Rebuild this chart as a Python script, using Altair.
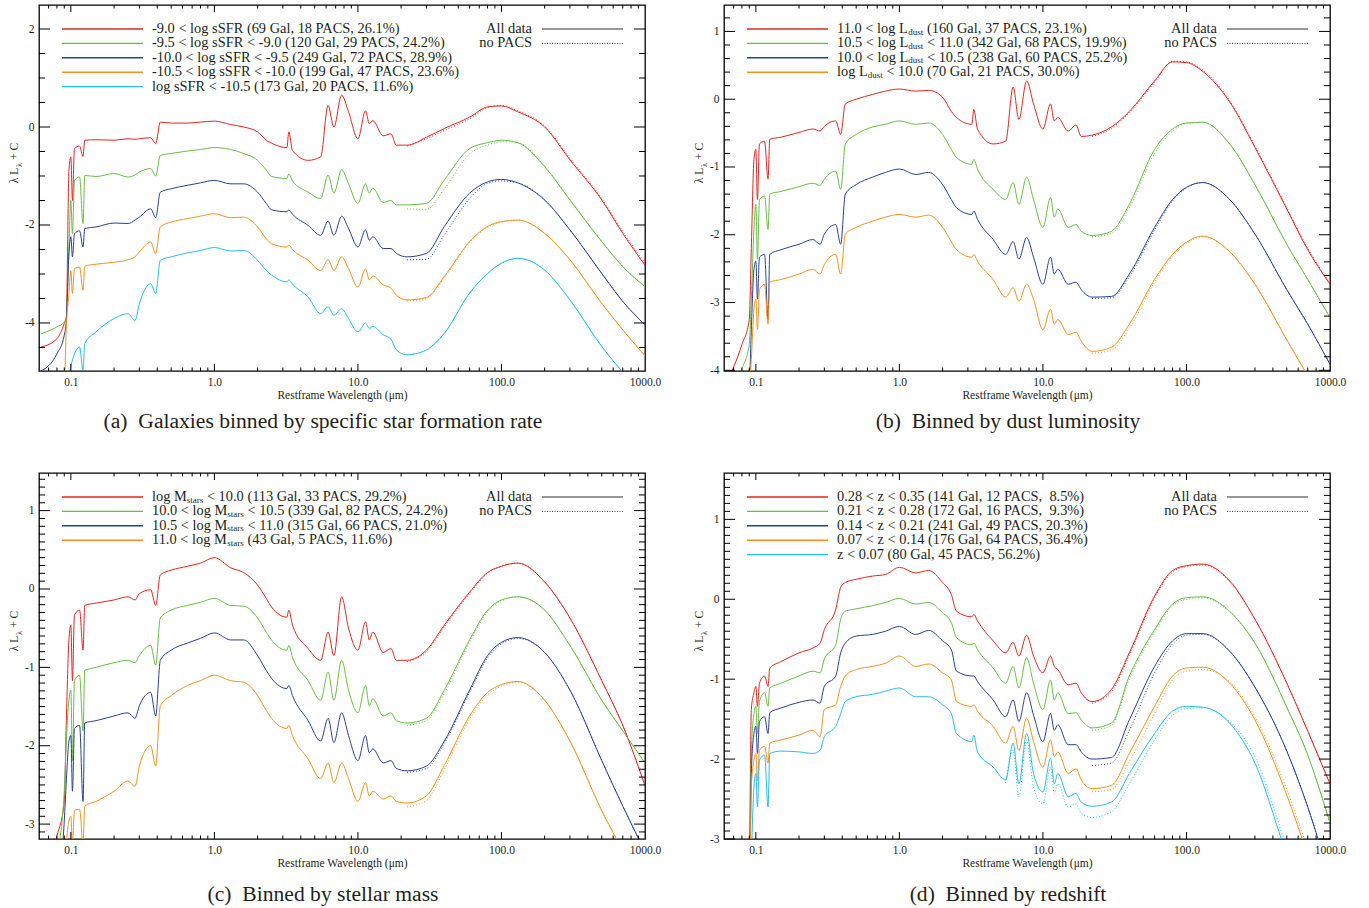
import altair as alt
import pandas as pd

FONT = "Liberation Serif"
INK = "#231f20"
W, H = 606, 366

# ---------------- wavelength grids (micron) ----------------
WL = [0.062, 0.08, 0.09, 0.093, 0.097, 0.1, 0.1026, 0.106, 0.115, 0.1216, 0.125, 0.15, 0.2, 0.25,
      0.28, 0.3, 0.36, 0.39, 0.42, 0.5, 0.65, 0.8, 1.0, 1.3, 1.6, 2.0, 2.3, 2.5, 3.2, 3.3, 3.5, 4.5,
      5.5, 6.2, 6.8, 7.7, 8.6, 10.0, 11.3, 12.0, 12.7, 15.0, 17.0, 18.5, 22.0, 30.0, 40.0, 60.0,
      80.0, 100.0, 130.0, 200.0, 300.0, 500.0, 700.0, 1000.0]
WL_FIR = [22.0, 30.0, 40.0, 60.0, 80.0, 100.0, 130.0, 200.0, 300.0, 500.0, 700.0, 1000.0]
WL_MIRFIR = [5.5, 6.2, 6.8, 7.7, 8.6, 10.0, 11.3, 12.0, 12.7, 15.0, 17.0, 18.5, 22.0, 30.0, 40.0,
             60.0, 80.0, 100.0, 130.0, 200.0, 300.0, 500.0, 700.0, 1000.0]

# ---------------- panel (a): sSFR bins ----------------
A_RED = [-4.49, -4.32, -4.01, -3.88, -0.88, -0.61, -1.50, -0.44, -0.39, -0.60, -0.27, -0.26, -0.27, -0.24,
         -0.25, -0.24, -0.22, -0.34, 0.10, 0.08, 0.08, 0.10, 0.12, 0.05, 0.00, -0.10, -0.27, -0.33, -0.42,
         -0.10, -0.48, -0.68, -0.61, 0.44, 0.00, 0.65, 0.31, -0.24, 0.33, 0.07, 0.13, -0.18, -0.14, -0.37,
         -0.37, -0.21, -0.03, 0.20, 0.41, 0.43, 0.31, 0.00, -0.67, -1.49, -2.17, -2.82]
A_GREEN = [-4.22, -4.08, -3.98, -3.88, -2.45, -1.50, -2.18, -1.09, -1.02, -1.97, -0.99, -1.01, -0.95, -1.02,
           -0.98, -0.92, -0.85, -1.00, -0.58, -0.54, -0.49, -0.46, -0.42, -0.46, -0.54, -0.68, -0.88, -1.01,
           -1.05, -0.96, -1.10, -1.33, -1.46, -0.98, -1.35, -0.87, -1.16, -1.56, -1.16, -1.35, -1.25, -1.54,
           -1.50, -1.59, -1.59, -1.56, -1.08, -0.44, -0.32, -0.27, -0.32, -0.81, -1.49, -2.34, -2.85, -3.26]
A_BLUE = [-4.98, -4.63, -4.25, -3.95, -2.59, -2.24, -2.65, -2.18, -2.12, -2.45, -2.07, -2.04, -1.96, -1.97,
          -1.90, -1.84, -1.67, -1.85, -1.33, -1.26, -1.19, -1.14, -1.09, -1.16, -1.16, -1.33, -1.56, -1.69,
          -1.73, -1.69, -1.78, -2.01, -2.21, -1.92, -2.21, -1.82, -2.07, -2.45, -2.10, -2.31, -2.24, -2.48,
          -2.48, -2.58, -2.65, -2.58, -2.03, -1.35, -1.12, -1.07, -1.14, -1.49, -2.10, -2.99, -3.56, -4.04]
A_ORANGE = [-6.0, -6.0, -5.3, -4.08, -3.40, -2.93, -3.40, -2.89, -2.86, -3.33, -2.84, -2.80, -2.76, -2.71,
            -2.65, -2.55, -2.35, -2.58, -2.04, -1.94, -1.87, -1.82, -1.77, -1.85, -1.84, -2.04, -2.28, -2.38,
            -2.45, -2.41, -2.50, -2.72, -2.93, -2.71, -2.93, -2.65, -2.89, -3.27, -2.90, -3.12, -3.04, -3.22,
            -3.29, -3.43, -3.53, -3.48, -3.05, -2.34, -2.03, -1.93, -1.90, -2.17, -2.71, -3.60, -4.14, -4.67]
A_CYAN = [-7.0, -7.0, -7.0, -6.5, -5.3, -4.90, -4.76, -4.63, -4.49, -4.97, -4.42, -4.18, -3.91, -3.81,
          -3.95, -3.61, -3.20, -3.40, -2.72, -2.65, -2.57, -2.52, -2.46, -2.53, -2.52, -2.72, -2.93, -3.02,
          -3.16, -3.12, -3.21, -3.47, -3.81, -3.67, -3.84, -3.71, -3.91, -4.18, -4.00, -4.11, -4.07, -4.24,
          -4.33, -4.55, -4.65, -4.55, -4.21, -3.39, -2.99, -2.78, -2.68, -2.92, -3.53, -4.48, -5.00, -5.45]
A_RED_NP = [-0.39, -0.24, -0.07, 0.17, 0.40, 0.44, 0.33, 0.02, -0.64, -1.46, -2.13, -2.78]
A_GREEN_NP = [-1.67, -1.68, -1.26, -0.55, -0.37, -0.30, -0.32, -0.80, -1.48, -2.33, -2.84, -3.25]
A_BLUE_NP = [-2.71, -2.70, -2.20, -1.46, -1.15, -1.10, -1.14, -1.49, -2.10, -2.99, -3.56, -4.04]
A_ORANGE_NP = [-3.55, -3.50, -3.08, -2.36, -2.05, -1.94, -1.90, -2.17, -2.71, -3.60, -4.14, -4.67]
A_CYAN_NP = [-4.65, -4.55, -4.21, -3.39, -2.99, -2.78, -2.68, -2.92, -3.53, -4.48, -5.00, -5.45]

# ---------------- panel (b): dust luminosity bins ----------------
B_RED = [-4.2, -3.62, -3.25, -2.2, -0.89, -0.74, -1.48, -0.66, -0.62, -1.18, -0.59, -0.56, -0.49, -0.44,
         -0.47, -0.40, -0.32, -0.52, -0.07, 0.00, 0.07, 0.12, 0.15, 0.12, 0.13, 0.03, -0.18, -0.27, -0.37,
         -0.15, -0.44, -0.66, -0.62, 0.18, -0.30, 0.27, -0.07, -0.44, -0.07, -0.32, -0.27, -0.47, -0.38,
         -0.55, -0.53, -0.41, -0.18, 0.27, 0.55, 0.54, 0.41, -0.04, -0.71, -1.62, -2.22, -2.73]
B_GREEN = [-4.6, -3.98, -3.62, -2.95, -1.92, -1.55, -2.36, -1.48, -1.43, -1.92, -1.40, -1.36, -1.29, -1.24,
           -1.27, -1.18, -1.06, -1.33, -0.66, -0.52, -0.41, -0.37, -0.32, -0.37, -0.35, -0.52, -0.74, -0.86,
           -0.96, -0.89, -1.03, -1.33, -1.48, -1.23, -1.55, -1.15, -1.48, -1.89, -1.45, -1.74, -1.62, -1.89,
           -1.85, -1.95, -2.01, -1.95, -1.55, -0.74, -0.44, -0.35, -0.34, -0.66, -1.26, -2.14, -2.66, -3.22]
B_BLUE = [-5.0, -4.6, -4.2, -3.40, -2.51, -2.39, -2.95, -2.33, -2.29, -3.25, -2.29, -2.22, -2.14, -2.07,
          -2.14, -1.99, -1.85, -2.14, -1.40, -1.26, -1.15, -1.08, -1.03, -1.11, -1.08, -1.26, -1.48, -1.60,
          -1.70, -1.65, -1.77, -2.07, -2.29, -2.10, -2.36, -2.04, -2.33, -2.73, -2.33, -2.58, -2.51, -2.73,
          -2.70, -2.81, -2.92, -2.91, -2.58, -1.89, -1.48, -1.30, -1.23, -1.48, -1.99, -2.81, -3.32, -3.91]
B_ORANGE = [-6.0, -6.0, -4.3, -3.84, -3.10, -2.95, -3.40, -2.81, -2.73, -3.32, -2.70, -2.66, -2.58, -2.51,
            -2.58, -2.44, -2.29, -2.58, -1.99, -1.89, -1.80, -1.74, -1.70, -1.74, -1.71, -1.89, -2.10, -2.22,
            -2.33, -2.29, -2.39, -2.66, -2.92, -2.78, -2.98, -2.73, -2.95, -3.40, -3.10, -3.32, -3.25, -3.47,
            -3.44, -3.57, -3.72, -3.66, -3.32, -2.66, -2.29, -2.11, -2.02, -2.25, -2.73, -3.55, -4.08, -4.60]
B_RED_NP = [-0.55, -0.43, -0.20, 0.25, 0.56, 0.55, 0.43, -0.02, -0.69, -1.60, -2.20, -2.71]
B_GREEN_NP = [-2.03, -1.98, -1.60, -0.80, -0.47, -0.36, -0.34, -0.66, -1.26, -2.14, -2.66, -3.22]
B_BLUE_NP = [-2.94, -2.93, -2.62, -1.93, -1.50, -1.31, -1.23, -1.48, -1.99, -2.81, -3.32, -3.91]
B_ORANGE_NP = [-3.75, -3.70, -3.38, -2.70, -2.32, -2.13, -2.03, -2.25, -2.73, -3.55, -4.08, -4.60]

# ---------------- panel (c): stellar mass bins ----------------
C_RED = [-3.6, -3.15, -2.71, -1.68, -0.65, -0.46, -1.17, -0.33, -0.27, -0.78, -0.21, -0.18, -0.14, -0.10,
         -0.14, -0.06, -0.01, -0.21, 0.18, 0.24, 0.29, 0.33, 0.40, 0.27, 0.21, 0.05, -0.12, -0.23, -0.36,
         -0.27, -0.46, -0.76, -0.91, -0.55, -0.85, -0.10, -0.50, -0.78, -0.42, -0.65, -0.55, -0.81, -0.76,
         -0.91, -0.91, -0.78, -0.46, -0.04, 0.21, 0.29, 0.33, 0.09, -0.37, -1.17, -1.74, -2.51]
C_GREEN = [-4.0, -3.4, -2.58, -1.94, -1.42, -1.29, -2.19, -1.17, -1.10, -1.81, -1.04, -1.00, -0.94, -0.91,
           -0.94, -0.85, -0.72, -0.97, -0.37, -0.27, -0.21, -0.17, -0.12, -0.21, -0.22, -0.37, -0.55, -0.65,
           -0.78, -0.72, -0.87, -1.17, -1.42, -1.06, -1.42, -0.91, -1.29, -1.58, -1.23, -1.49, -1.40, -1.62,
           -1.58, -1.68, -1.71, -1.65, -1.29, -0.65, -0.27, -0.14, -0.10, -0.27, -0.72, -1.42, -1.81, -2.22]
C_BLUE = [-4.5, -3.9, -2.96, -2.45, -1.94, -1.87, -2.58, -1.78, -1.74, -2.71, -1.71, -1.68, -1.62, -1.58,
          -1.65, -1.49, -1.32, -1.62, -0.91, -0.78, -0.69, -0.63, -0.56, -0.65, -0.65, -0.85, -1.04, -1.14,
          -1.27, -1.23, -1.36, -1.68, -1.94, -1.65, -1.96, -1.58, -1.87, -2.19, -1.87, -2.09, -2.04, -2.22,
          -2.19, -2.29, -2.32, -2.26, -1.94, -1.29, -0.85, -0.68, -0.62, -0.81, -1.29, -2.19, -2.77, -3.35]
C_ORANGE = [-5.0, -5.0, -4.2, -3.3, -2.96, -2.90, -3.25, -2.83, -2.81, -3.25, -2.77, -2.71, -2.58, -2.45,
            -2.52, -2.26, -2.00, -2.26, -1.49, -1.36, -1.23, -1.17, -1.10, -1.17, -1.19, -1.36, -1.55, -1.65,
            -1.78, -1.74, -1.87, -2.17, -2.42, -2.22, -2.47, -2.22, -2.42, -2.71, -2.47, -2.64, -2.58, -2.68,
            -2.64, -2.71, -2.73, -2.64, -2.25, -1.62, -1.32, -1.22, -1.18, -1.42, -1.94, -2.83, -3.35, -4.00]
C_RED_NP = [-0.93, -0.80, -0.48, -0.06, 0.20, 0.29, 0.33, 0.09, -0.37, -1.17, -1.74, -2.51]
C_GREEN_NP = [-1.74, -1.68, -1.33, -0.68, -0.29, -0.15, -0.10, -0.27, -0.72, -1.42, -1.81, -2.22]
C_BLUE_NP = [-2.34, -2.29, -1.97, -1.32, -0.88, -0.70, -0.63, -0.81, -1.29, -2.19, -2.77, -3.35]
C_ORANGE_NP = [-2.78, -2.70, -2.30, -1.66, -1.35, -1.24, -1.19, -1.42, -1.94, -2.83, -3.35, -4.00]

# ---------------- panel (d): redshift bins ----------------
D_RED = [-4.0, -3.6, -3.2, -1.38, -1.17, -1.09, -1.34, -1.05, -0.96, -1.09, -0.86, -0.78, -0.67, -0.61,
         -0.55, -0.38, -0.13, 0.15, 0.21, 0.25, 0.29, 0.31, 0.40, 0.33, 0.36, 0.21, 0.06, -0.15, -0.22,
         -0.19, -0.27, -0.52, -0.67, -0.54, -0.71, -0.45, -0.71, -0.92, -0.71, -0.84, -0.88, -1.07, -1.05,
         -1.17, -1.28, -1.13, -0.67, 0.04, 0.36, 0.42, 0.44, 0.23, -0.25, -1.05, -1.65, -2.31]
D_GREEN = [-4.4, -4.0, -3.6, -1.93, -1.43, -1.34, -1.68, -1.28, -1.17, -1.34, -1.11, -1.05, -0.96, -0.90,
           -0.92, -0.75, -0.57, -0.25, -0.15, -0.12, -0.08, -0.04, 0.01, -0.06, -0.04, -0.17, -0.29, -0.48,
           -0.57, -0.55, -0.63, -0.86, -1.05, -0.84, -1.11, -0.73, -1.05, -1.38, -1.01, -1.26, -1.17, -1.43,
           -1.42, -1.51, -1.61, -1.55, -0.96, -0.38, -0.06, 0.02, 0.03, -0.15, -0.55, -1.35, -1.95, -2.80]
D_BLUE = [-4.6, -4.2, -3.8, -2.18, -1.68, -1.59, -1.93, -1.53, -1.47, -1.68, -1.42, -1.36, -1.29, -1.26,
          -1.30, -1.09, -0.96, -0.67, -0.55, -0.46, -0.44, -0.40, -0.34, -0.44, -0.39, -0.52, -0.63, -0.90,
          -0.96, -0.96, -1.03, -1.26, -1.47, -1.26, -1.53, -1.17, -1.45, -1.78, -1.43, -1.64, -1.57, -1.82,
          -1.82, -1.91, -2.00, -1.98, -1.51, -0.84, -0.52, -0.43, -0.43, -0.65, -1.10, -1.90, -2.60, -3.50]
D_ORANGE = [-5.0, -4.6, -4.0, -2.35, -2.01, -1.93, -2.27, -1.89, -1.84, -2.05, -1.80, -1.76, -1.70, -1.64,
            -1.72, -1.38, -1.32, -1.09, -0.96, -0.88, -0.84, -0.80, -0.71, -0.84, -0.81, -0.92, -1.01, -1.28,
            -1.34, -1.32, -1.40, -1.59, -1.80, -1.59, -1.89, -1.49, -1.78, -2.10, -1.76, -1.97, -1.91, -2.18,
            -2.12, -2.26, -2.37, -2.33, -1.93, -1.34, -0.96, -0.86, -0.85, -1.05, -1.51, -2.45, -3.20, -4.00]
D_CYAN = [-5.5, -5.0, -4.5, -3.3, -2.35, -2.18, -2.60, -2.01, -1.95, -2.60, -1.93, -1.90, -1.91, -1.93,
          -1.89, -1.72, -1.59, -1.43, -1.28, -1.22, -1.19, -1.15, -1.11, -1.22, -1.22, -1.32, -1.43, -1.68,
          -1.78, -1.70, -1.91, -2.10, -2.26, -1.80, -2.31, -1.68, -2.18, -2.41, -1.99, -2.31, -2.18, -2.47,
          -2.43, -2.54, -2.59, -2.54, -2.18, -1.68, -1.40, -1.34, -1.35, -1.55, -2.05, -3.20, -3.90, -4.60]
D_RED_NP = [-1.30, -1.16, -0.70, 0.02, 0.34, 0.41, 0.43, 0.22, -0.25, -1.05, -1.65, -2.31]
D_GREEN_NP = [-1.64, -1.58, -1.00, -0.41, -0.08, 0.00, 0.02, -0.16, -0.55, -1.35, -1.95, -2.80]
D_BLUE_NP = [-2.08, -2.05, -1.64, -0.92, -0.56, -0.45, -0.44, -0.65, -1.10, -1.90, -2.60, -3.50]
D_ORANGE_NP = [-2.41, -2.38, -2.03, -1.43, -1.01, -0.90, -0.88, -1.03, -1.47, -2.38, -3.12, -3.92]
D_CYAN_NP = [-2.30, -1.89, -2.47, -1.76, -2.35, -2.56, -2.10, -2.43, -2.31, -2.60, -2.56, -2.68, -2.73,
             -2.66, -2.31, -1.76, -1.45, -1.37, -1.36, -1.53, -1.97, -3.10, -3.82, -4.55]

# ---------------- legend texts ----------------
A_LABELS = [[("-9.0 < log sSFR (69 Gal, 18 PACS, 26.1%)", 0)],
            [("-9.5 < log sSFR < -9.0 (120 Gal, 29 PACS, 24.2%)", 0)],
            [("-10.0 < log sSFR < -9.5 (249 Gal, 72 PACS, 28.9%)", 0)],
            [("-10.5 < log sSFR < -10.0 (199 Gal, 47 PACS, 23.6%)", 0)],
            [("log sSFR < -10.5 (173 Gal, 20 PACS, 11.6%)", 0)]]
B_LABELS = [[("11.0 < log L", 0), ("dust", 1), (" (160 Gal, 37 PACS, 23.1%)", 0)],
            [("10.5 < log L", 0), ("dust", 1), (" < 11.0 (342 Gal, 68 PACS, 19.9%)", 0)],
            [("10.0 < log L", 0), ("dust", 1), (" < 10.5 (238 Gal, 60 PACS, 25.2%)", 0)],
            [("log L", 0), ("dust", 1), (" < 10.0 (70 Gal, 21 PACS, 30.0%)", 0)]]
C_LABELS = [[("log M", 0), ("stars", 1), (" < 10.0 (113 Gal, 33 PACS, 29.2%)", 0)],
            [("10.0 < log M", 0), ("stars", 1), (" < 10.5 (339 Gal, 82 PACS, 24.2%)", 0)],
            [("10.5 < log M", 0), ("stars", 1), (" < 11.0 (315 Gal, 66 PACS, 21.0%)", 0)],
            [("11.0 < log M", 0), ("stars", 1), (" (43 Gal, 5 PACS, 11.6%)", 0)]]
D_LABELS = [[("0.28 < z < 0.35 (141 Gal, 12 PACS,\u00a0 8.5%)", 0)],
            [("0.21 < z < 0.28 (172 Gal, 16 PACS,\u00a0 9.3%)", 0)],
            [("0.14 < z < 0.21 (241 Gal, 49 PACS, 20.3%)", 0)],
            [("0.07 < z < 0.14 (176 Gal, 64 PACS, 36.4%)", 0)],
            [("z < 0.07 (80 Gal, 45 PACS, 56.2%)", 0)]]
CAPTIONS = ["(a)\u00a0 Galaxies binned by specific star formation rate",
            "(b)\u00a0 Binned by dust luminosity",
            "(c)\u00a0 Binned by stellar mass",
            "(d)\u00a0 Binned by redshift"]

# ---------------- axis ticks ----------------
X_MAJOR = [0.1, 1.0, 10.0, 100.0, 1000.0]
X_MINOR = [0.07, 0.08, 0.09, 0.2, 0.3, 0.4, 0.5, 0.6, 0.7, 0.8, 0.9, 2, 3, 4, 5, 6, 7, 8, 9,
           20, 30, 40, 50, 60, 70, 80, 90, 200, 300, 400, 500, 600, 700, 800, 900]

RED, GREEN, BLUE, ORANGE, CYAN = "#e8231f", "#6abd45", "#2b3f98", "#f7901e", "#27bdee"

# Times-compatible advance widths (1/1000 em) for text layout
TW = {' ': 250, '\u00a0': 250, '%': 833, '(': 333, ')': 333, '+': 564, ',': 250, '-': 333, '.': 250,
      '<': 564, 'A': 722, 'C': 667, 'G': 722, 'L': 611, 'M': 889, 'P': 556, 'R': 667, 'S': 556,
      'F': 556, 'a': 444, 'd': 500, 'g': 500, 'l': 278, 'o': 500, 'r': 333, 's': 389, 't': 278,
      'u': 500, 'z': 444, 'λ': 550}


def tw(s, size):
    return sum(TW.get(c, 500) for c in s) / 1000.0 * size


ONE = alt.Data(values=[{"k": 0}])
LEG_SIZE, SUB_SIZE = 14.4, 9.0
LEG_Y0, LEG_DY = 24, 14.4


def txt(x, y, s, size, align="left", angle=0, baseline="middle"):
    return alt.Chart(ONE).mark_text(text=s, fontSize=size, font=FONT, color=INK, align=align,
                                    baseline=baseline, angle=angle).encode(x=alt.value(x), y=alt.value(y))


def hrule(x1, x2, y, color, width=1.3, dash=None):
    kw = dict(color=color, strokeWidth=width)
    if dash:
        kw["strokeDash"] = dash
    return alt.Chart(ONE).mark_rule(**kw).encode(x=alt.value(x1), x2=alt.value(x2), y=alt.value(y))


def build_panel(key, ydom, ymaj, ystep, series, labels, caption, cap_offset):
    XS = alt.Scale(type="log", domain=[0.06, 1000], nice=False)
    XAX = alt.Axis(values=X_MAJOR, labelExpr="format(datum.value, '.1f')", ticks=False, tickSize=0,
                   domain=False, grid=False, labelPadding=5, labelFontSize=11.5, labelFont=FONT,
                   labelColor=INK, labelFlush=False, labelOverlap=False,
                   title="Restframe Wavelength (\u03bcm)", titleFont=FONT, titleFontSize=11.5,
                   titleFontWeight="normal", titleColor=INK, titlePadding=2)
    YS = alt.Scale(domain=ydom, nice=False, zero=False)
    YAX = alt.Axis(values=ymaj, labelExpr="'' + datum.value", ticks=False, tickSize=0, domain=False,
                   grid=False, labelPadding=5, labelFontSize=11.5, labelFont=FONT, labelColor=INK,
                   labelFlush=False, labelOverlap=False, title=None)
    XE = alt.X("wl:Q", scale=XS, axis=XAX)
    YE = alt.Y("val:Q", scale=YS, axis=YAX)

    rows, nrows, cols = [], [], []
    for i, (col, sv, nw, nv) in enumerate(series):
        sid = f"{key}{i}"
        cols.append(col)
        rows += [{"wl": w, "val": v, "sid": sid, "col": col} for w, v in zip(WL, sv)]
        nrows += [{"wl": w, "val": v, "sid": sid, "col": col} for w, v in zip(nw, nv)]
    cenc = alt.Color("col:N", scale=None)

    solid = alt.Chart(pd.DataFrame(rows)).mark_line(strokeWidth=1.0, clip=True, interpolate="monotone").encode(
        x=XE, y=YE, color=cenc, detail="sid:N")
    dotted = alt.Chart(pd.DataFrame(nrows)).mark_line(strokeWidth=1.0, clip=True, strokeDash=[1, 2],
                                                      interpolate="monotone").encode(
        x=XE, y=YE, color=cenc, detail="sid:N")
    layers = [solid, dotted]

    # inward ticks on all four sides
    for vals, ln in ((X_MAJOR[:-1], 7), (X_MINOR, 3.5)):
        df = pd.DataFrame({"wl": vals})
        layers.append(alt.Chart(df).mark_rule(color="black", strokeWidth=1).encode(
            x=XE, y=alt.value(H), y2=alt.value(H - ln)))
        layers.append(alt.Chart(df).mark_rule(color="black", strokeWidth=1).encode(
            x=XE, y=alt.value(0), y2=alt.value(ln)))
    n = int(round((ydom[1] - ydom[0]) / ystep)) + 2
    start = ystep * int(ydom[0] / ystep - 1)
    yminor = []
    for k in range(n + 2):
        v = round(start + k * ystep, 4)
        if ydom[0] + 1e-3 < v < ydom[1] - 1e-3 and all(abs(v - m) > 1e-6 for m in ymaj):
            yminor.append(v)
    for vals, ln in ((ymaj, 11), (yminor, 6)):
        df = pd.DataFrame({"val": vals})
        layers.append(alt.Chart(df).mark_rule(color="black", strokeWidth=1).encode(
            y=YE, x=alt.value(0), x2=alt.value(ln)))
        layers.append(alt.Chart(df).mark_rule(color="black", strokeWidth=1).encode(
            y=YE, x=alt.value(W), x2=alt.value(W - ln)))

    # legend (left)
    for i, (segs, col) in enumerate(zip(labels, cols)):
        y = LEG_Y0 + LEG_DY * i
        layers.append(hrule(23, 104, y, col, width=1.4))
        x = 113
        for s, sub in segs:
            size = SUB_SIZE if sub else LEG_SIZE
            lead = len(s) - len(s.lstrip(" "))
            x += tw(" " * lead, size)
            body = s.strip(" ")
            layers.append(txt(x, y + (2.6 if sub else 0), body, size))
            x += tw(body, size)
    # legend (right)
    layers.append(txt(W - 113, LEG_Y0, "All data", LEG_SIZE, align="right"))
    layers.append(hrule(W - 103, W - 22, LEG_Y0, "#333333", width=1.2))
    layers.append(txt(W - 113, LEG_Y0 + LEG_DY, "no PACS", LEG_SIZE, align="right"))
    layers.append(hrule(W - 103, W - 22, LEG_Y0 + LEG_DY, "#333333", width=1.0, dash=[1, 1.5]))

    # y-axis title  "λ L_λ + C" (rotated)
    ts, ss = 11.5, 8
    segs = [("\u03bb L", ts, -21), ("\u03bb", ss, -17.5), (" + C", ts, -21)]
    total = sum(tw(s, sz) for s, sz, _ in segs)
    ypos = 158 + total / 2
    for s, sz, xo in segs:
        lead = len(s) - len(s.lstrip(" "))
        ypos -= tw(" " * lead, sz)
        body = s.strip(" ")
        layers.append(txt(xo, ypos, body, sz, angle=270, baseline="alphabetic"))
        ypos -= tw(body, sz)

    return alt.layer(*layers).properties(
        width=W, height=H,
        title=alt.TitleParams(caption, orient="bottom", anchor="middle", frame="group", dx=-19,
                              offset=cap_offset, fontSize=21.6, font=FONT, fontWeight="normal", color=INK))


pa = build_panel("a", [-4.98, 2.49], [-4, -2, 0, 2], 0.5,
                 [(RED, A_RED, WL_FIR, A_RED_NP), (GREEN, A_GREEN, WL_FIR, A_GREEN_NP),
                  (BLUE, A_BLUE, WL_FIR, A_BLUE_NP), (ORANGE, A_ORANGE, WL_FIR, A_ORANGE_NP),
                  (CYAN, A_CYAN, WL_FIR, A_CYAN_NP)], A_LABELS, CAPTIONS[0], 10)
pb = build_panel("b", [-4.01, 1.39], [-4, -3, -2, -1, 0, 1], 0.2,
                 [(RED, B_RED, WL_FIR, B_RED_NP), (GREEN, B_GREEN, WL_FIR, B_GREEN_NP),
                  (BLUE, B_BLUE, WL_FIR, B_BLUE_NP), (ORANGE, B_ORANGE, WL_FIR, B_ORANGE_NP)],
                 B_LABELS, CAPTIONS[1], 10)
pc = build_panel("c", [-3.19, 1.48], [-3, -2, -1, 0, 1], 0.1,
                 [(RED, C_RED, WL_FIR, C_RED_NP), (GREEN, C_GREEN, WL_FIR, C_GREEN_NP),
                  (BLUE, C_BLUE, WL_FIR, C_BLUE_NP), (ORANGE, C_ORANGE, WL_FIR, C_ORANGE_NP)],
                 C_LABELS, CAPTIONS[2], 15)
pd_ = build_panel("d", [-3.0, 1.58], [-3, -2, -1, 0, 1], 0.1,
                  [(RED, D_RED, WL_FIR, D_RED_NP), (GREEN, D_GREEN, WL_FIR, D_GREEN_NP),
                   (BLUE, D_BLUE, WL_FIR, D_BLUE_NP), (ORANGE, D_ORANGE, WL_FIR, D_ORANGE_NP),
                   (CYAN, D_CYAN, WL_MIRFIR, D_CYAN_NP)], D_LABELS, CAPTIONS[3], 15)

chart = alt.vconcat(
    alt.hconcat(pa, pb, spacing=31),
    alt.hconcat(pc, pd_, spacing=31),
    spacing=37,
).properties(
    padding={"left": 8, "top": 3, "right": 5, "bottom": 3}, background="white"
).configure_view(stroke="black", strokeWidth=1.3)

chart.save("out.html", embed_options={"renderer": "svg", "actions": False})
